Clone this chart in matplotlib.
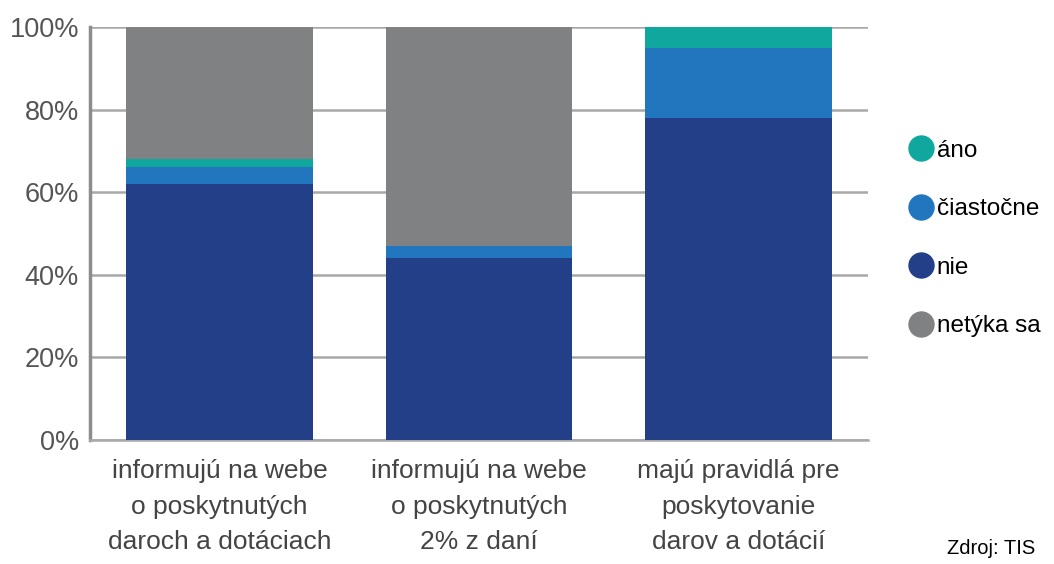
import matplotlib
matplotlib.use("Agg")
import matplotlib.pyplot as plt
from matplotlib.lines import Line2D
import numpy as np

plt.rcParams['font.family'] = ['Liberation Sans', 'DejaVu Sans']

categories = ["informujú na webe\no poskytnutých\ndaroch a dotáciach",
              "informujú na webe\no poskytnutých\n2% z daní",
              "majú pravidlá pre\nposkytovanie\ndarov a dotácií"]
series = ["nie", "čiastočne", "áno", "netýka sa"]
nie = [62, 44, 78]
ciastocne = [4, 3, 17]
ano = [2, 0, 5]
netyka = [32, 53, 0]
colors = {"áno": "#10A89E", "čiastočne": "#2176BD", "nie": "#233F88", "netýka sa": "#808183"}
legend_order = ["áno", "čiastočne", "nie", "netýka sa"]

fig = plt.figure(figsize=(10.54, 5.64), dpi=100)
ax = fig.add_axes([0.0854, 0.2199, 0.738, 0.732])

x = np.arange(len(categories))
bottom = np.zeros(len(categories))
for name, vals in zip(series, [nie, ciastocne, ano, netyka]):
    ax.bar(x, vals, width=0.72, bottom=bottom, color=colors[name], zorder=3)
    bottom += np.array(vals)

ax.set_xlim(-0.5, 2.5)
ax.set_ylim(0, 100)
ax.set_yticks(range(0, 101, 20))
ax.set_yticklabels([f"{v}%" for v in range(0, 101, 20)], fontsize=19.5, color="#555555")
ax.set_xticks(x)
ax.set_xticklabels(categories, fontsize=19, color="#444444", linespacing=1.6)
ax.tick_params(axis="both", length=0)
ax.tick_params(axis="y", pad=8)
ax.tick_params(axis="x", pad=14)
ax.grid(axis="y", color="#A8A8A8", linewidth=1.8, zorder=0)
for s in ["top", "right"]:
    ax.spines[s].set_visible(False)
ax.spines["left"].set_color("#8C8C8C")
ax.spines["left"].set_linewidth(2.5)
ax.spines["bottom"].set_color("#A8A8A8")
ax.spines["bottom"].set_linewidth(1.8)

handles = [Line2D([], [], marker="o", linestyle="", markersize=18,
                  markerfacecolor=colors[n], markeredgecolor=colors[n]) for n in legend_order]
fig.legend(handles, legend_order, loc="center left", bbox_to_anchor=(0.86, 0.577),
           frameon=False, fontsize=17.5, handletextpad=0.05, labelspacing=1.5,
           handlelength=1.2, borderaxespad=0, borderpad=0)

fig.text(0.982, 0.01, "Zdroj: TIS", ha="right", va="bottom", fontsize=14.5, color="black")

fig.savefig("out.png", dpi=100)
